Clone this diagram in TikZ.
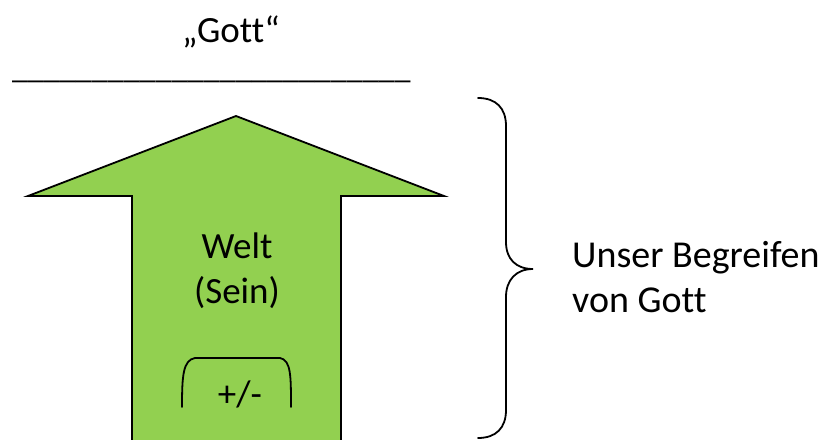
\documentclass[tikz,border=0pt]{standalone}
\usepackage{fontspec}
\setmainfont{Carlito}[Ligatures={NoCommon}]
\definecolor{arrowgreen}{RGB}{146,208,80}
\tikzset{
  bigtext/.style={font=\fontsize{37}{44}\selectfont, inner sep=0pt},
  sidetext/.style={font=\fontsize{38}{45}\selectfont, inner sep=0pt},
  midtext/.style={font=\fontsize{37}{44}\selectfont, inner sep=0pt},
  outline/.style={draw=black, line width=1.8pt, line join=miter},
  bracestyle/.style={draw=black, line width=1.8pt, line cap=round}
}
\begin{document}
\begin{tikzpicture}[x=1pt,y=-1pt]
\fill[white] (0,0) rectangle (819,439);
\useasboundingbox (0,0) rectangle (819,439);
% title
\node[midtext, anchor=base] (gott) at (231,42) {„Gott“};
\node[font=\fontsize{32}{38}\selectfont, inner sep=0pt, anchor=base west] (line) at (12,78) {\_\_\_\_\_\_\_\_\_\_\_\_\_\_\_\_\_\_\_\_\_\_\_\_\_};
% arrow
\filldraw[outline, fill=arrowgreen] (236,116) -- (444,196) -- (341,196) -- (341,450) -- (132,450) -- (132,196) -- (28,196) -- cycle;
\node[bigtext, anchor=base] (welt) at (237,258) {Welt};
\node[bigtext, anchor=base] (sein) at (237,303) {(Sein)};
% small bracket
\draw[bracestyle] (182,407) .. controls (182,376) and (183,360) .. (195,358) -- (280,358) .. controls (291,360) and (291,376) .. (291,407);
\node[midtext, anchor=base] (pm) at (240,406) {+/-};
% brace
\draw[bracestyle] (478,98) .. controls (496,98) and (506,108) .. (506,126) -- (506,242) .. controls (506,259) and (516,269) .. (533,269) .. controls (516,269) and (506,280) .. (506,297) -- (506,410) .. controls (506,428) and (496,438) .. (478,438);
\node[sidetext, anchor=base west] (unser) at (572,267) {Unser Begreifen};
\node[sidetext, anchor=base west] (vongott) at (572,312) {von Gott};
\end{tikzpicture}
\end{document}
